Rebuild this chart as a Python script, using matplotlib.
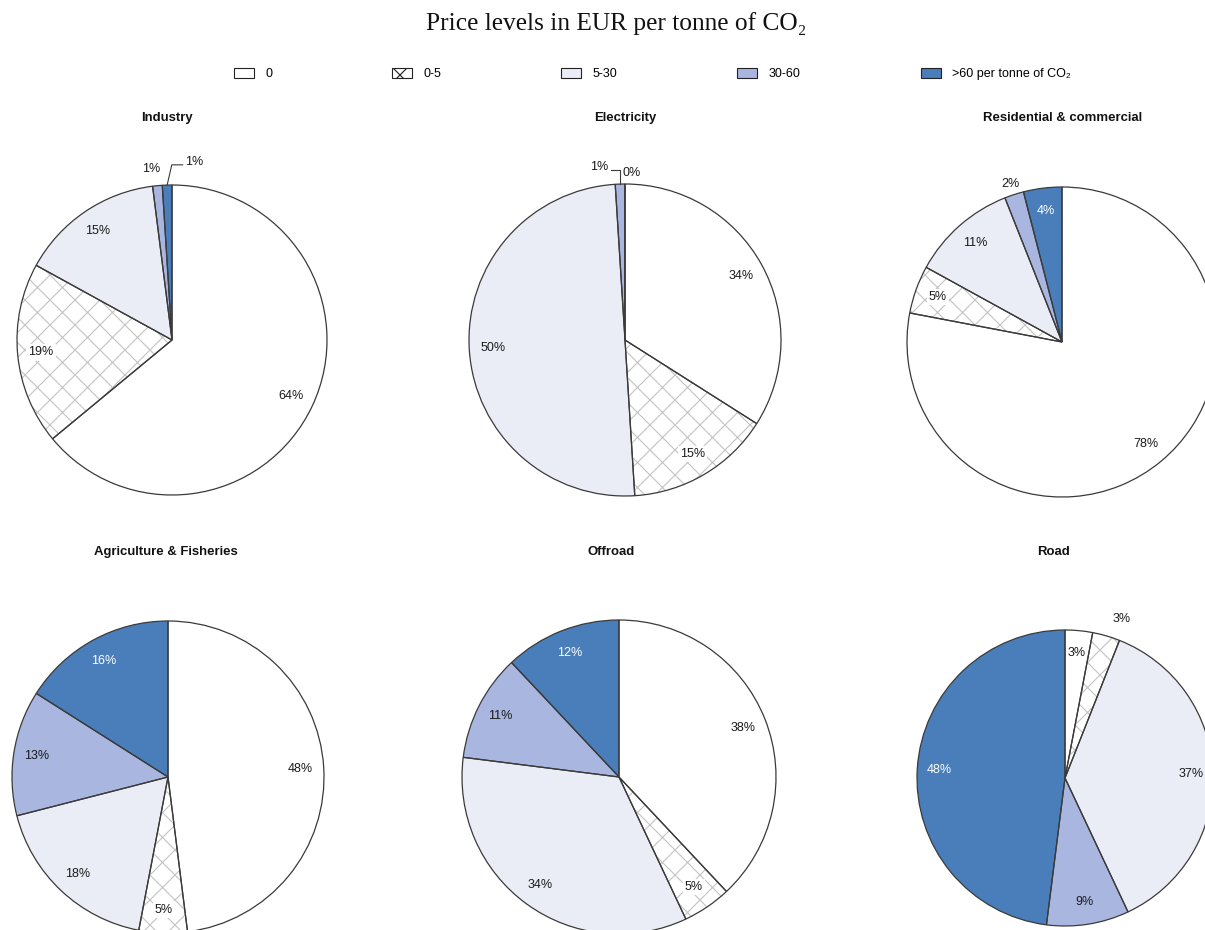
import numpy as np
import matplotlib
matplotlib.use('Agg')
import matplotlib.pyplot as plt
import matplotlib.font_manager as fm
from matplotlib.patches import Patch

# 价格区间与各部门排放占比 (%)
price_bands = ['0', '0-5', '5-30', '30-60', '>60 per tonne of CO₂']
sectors = ['Industry', 'Electricity', 'Residential & commercial',
           'Agriculture & Fisheries', 'Offroad', 'Road']
industry = [64, 19, 15, 1, 1]
electricity = [34, 15, 50, 1, 0]
residential = [78, 5, 11, 2, 4]
agriculture = [48, 5, 18, 13, 16]
offroad = [38, 5, 34, 11, 12]
road = [3, 3, 37, 9, 48]
shares = [industry, electricity, residential, agriculture, offroad, road]

band_colors = ['#ffffff', '#ffffff', '#eaedf6', '#a9b7e0', '#4a7ebb']
band_text = ['#1a1a1a', '#1a1a1a', '#1a1a1a', '#1a1a1a', '#ffffff']

W, H = 1205, 930
DPI = 150          # 较高dpi让网格线更密
k = 100 / DPI      # 字号/线宽换算系数

plt.rcParams['hatch.linewidth'] = 0.55

# 字体: 优先使用窄体
names = {f.name for f in fm.fontManager.ttflist}
narrow = 'Liberation Sans Narrow' if 'Liberation Sans Narrow' in names else 'Liberation Sans'
sans = [narrow, 'Liberation Sans', 'DejaVu Sans']
serif = ['Liberation Serif', 'DejaVu Serif']

# 每个饼图的位置 (像素): 圆心x, 圆心y, 半径, 标题x, 标题y
panels = [
    (172, 340, 155, 167, 118),
    (625, 340, 156, 625, 118),
    (1062, 342, 155, 1063, 118),
    (168, 777, 156, 166, 552),
    (619, 777, 157, 611, 552),
    (1065, 778, 148, 1053, 552),
]

# 特殊标签: (面板, 扇区) -> (距离, x偏移)
outside = {(0, 3): (1.11, -0.03), (2, 3): (1.07, 0.0), (5, 1): (1.12, 0.07)}
# 带引线的标签: (面板, 扇区) -> (拐点dx, 终点dx, 线高, 文字对齐)
leaders = {(0, 4): (0.03, 0.10, 1.13, 'left'), (1, 3): (0.0, -0.06, 1.09, 'right')}
plain_top = {(1, 4): (0.04, 1.07)}

fig = plt.figure(figsize=(W / DPI, H / DPI), dpi=DPI)
fig.patch.set_facecolor('white')

fig.text(616 / W, 1 - 24 / H, 'Price levels in EUR per tonne of CO₂',
         family=serif, fontsize=18.3 * k, ha='center', va='center', color='#111111')

edge = '#3a3a3a'
for p, (vals, name, (cx, cy, r, tx, ty)) in enumerate(zip(shares, sectors, panels)):
    s = 1.02 * r
    ax = fig.add_axes([(cx - s) / W, 1 - (cy + s) / H, 2 * s / W, 2 * s / H])
    # 底层: 填色与网格线
    fill, _ = ax.pie(vals, colors=band_colors, startangle=90, counterclock=False,
                     wedgeprops=dict(edgecolor='#c4c4c4', linewidth=0))
    fill[1].set_hatch('xx')
    # 上层: 轮廓
    wedges, _ = ax.pie(vals, colors=['none'] * 5, startangle=90, counterclock=False,
                       wedgeprops=dict(edgecolor=edge, linewidth=0.9 * k, fill=False))
    ax.set_xlim(-1.02, 1.02)
    ax.set_ylim(-1.02, 1.02)
    ax.axis('off')

    for i, w in enumerate(wedges):
        ang = np.deg2rad((w.theta1 + w.theta2) / 2)
        txt = f'{vals[i]}%'
        kw = dict(family=sans, fontsize=9 * k, va='center')
        if (p, i) in leaders:
            d1, d2, hy, ha = leaders[(p, i)]
            x0, y0 = np.cos(ang), np.sin(ang)
            ax.plot([x0, x0 + d1, x0 + d2], [y0, hy, hy], color=edge, lw=0.8 * k,
                    clip_on=False)
            tx0 = x0 + d2 + (0.015 if ha == 'left' else -0.015)
            ax.text(tx0, hy + 0.02, txt, ha=ha, color='#1a1a1a', **kw)
        elif (p, i) in plain_top:
            dx, hy = plain_top[(p, i)]
            ax.text(np.cos(ang) + dx, hy, txt, ha='center', color='#1a1a1a', **kw)
        elif (p, i) in outside:
            d, dx = outside[(p, i)]
            ax.text(d * np.cos(ang) + dx, d * np.sin(ang), txt, ha='center',
                    color='#1a1a1a', **kw)
        else:
            box = dict(facecolor='white', edgecolor='none', pad=1) if i == 1 else None
            ax.text(0.85 * np.cos(ang), 0.85 * np.sin(ang), txt, ha='center',
                    color=band_text[i], bbox=box, **kw)

    fig.text(tx / W, 1 - ty / H, name, family=sans, fontsize=9.5 * k,
             fontweight='bold', ha='center', va='center', color='#111111')

handles = [Patch(facecolor=c, edgecolor='#222222', linewidth=0.8 * k,
                 hatch=('xx' if j == 1 else None))
           for j, c in enumerate(band_colors)]
fig.legend(handles, price_bands, ncol=5, loc='upper left',
           bbox_to_anchor=(234 / W, 1 - 68 / H), frameon=False,
           prop=fm.FontProperties(family=sans, size=9 * k),
           handlelength=1.6, handleheight=0.85, handletextpad=0.9,
           columnspacing=9.6, borderpad=0, borderaxespad=0)

fig.savefig('out.png', dpi=DPI, facecolor='white')
